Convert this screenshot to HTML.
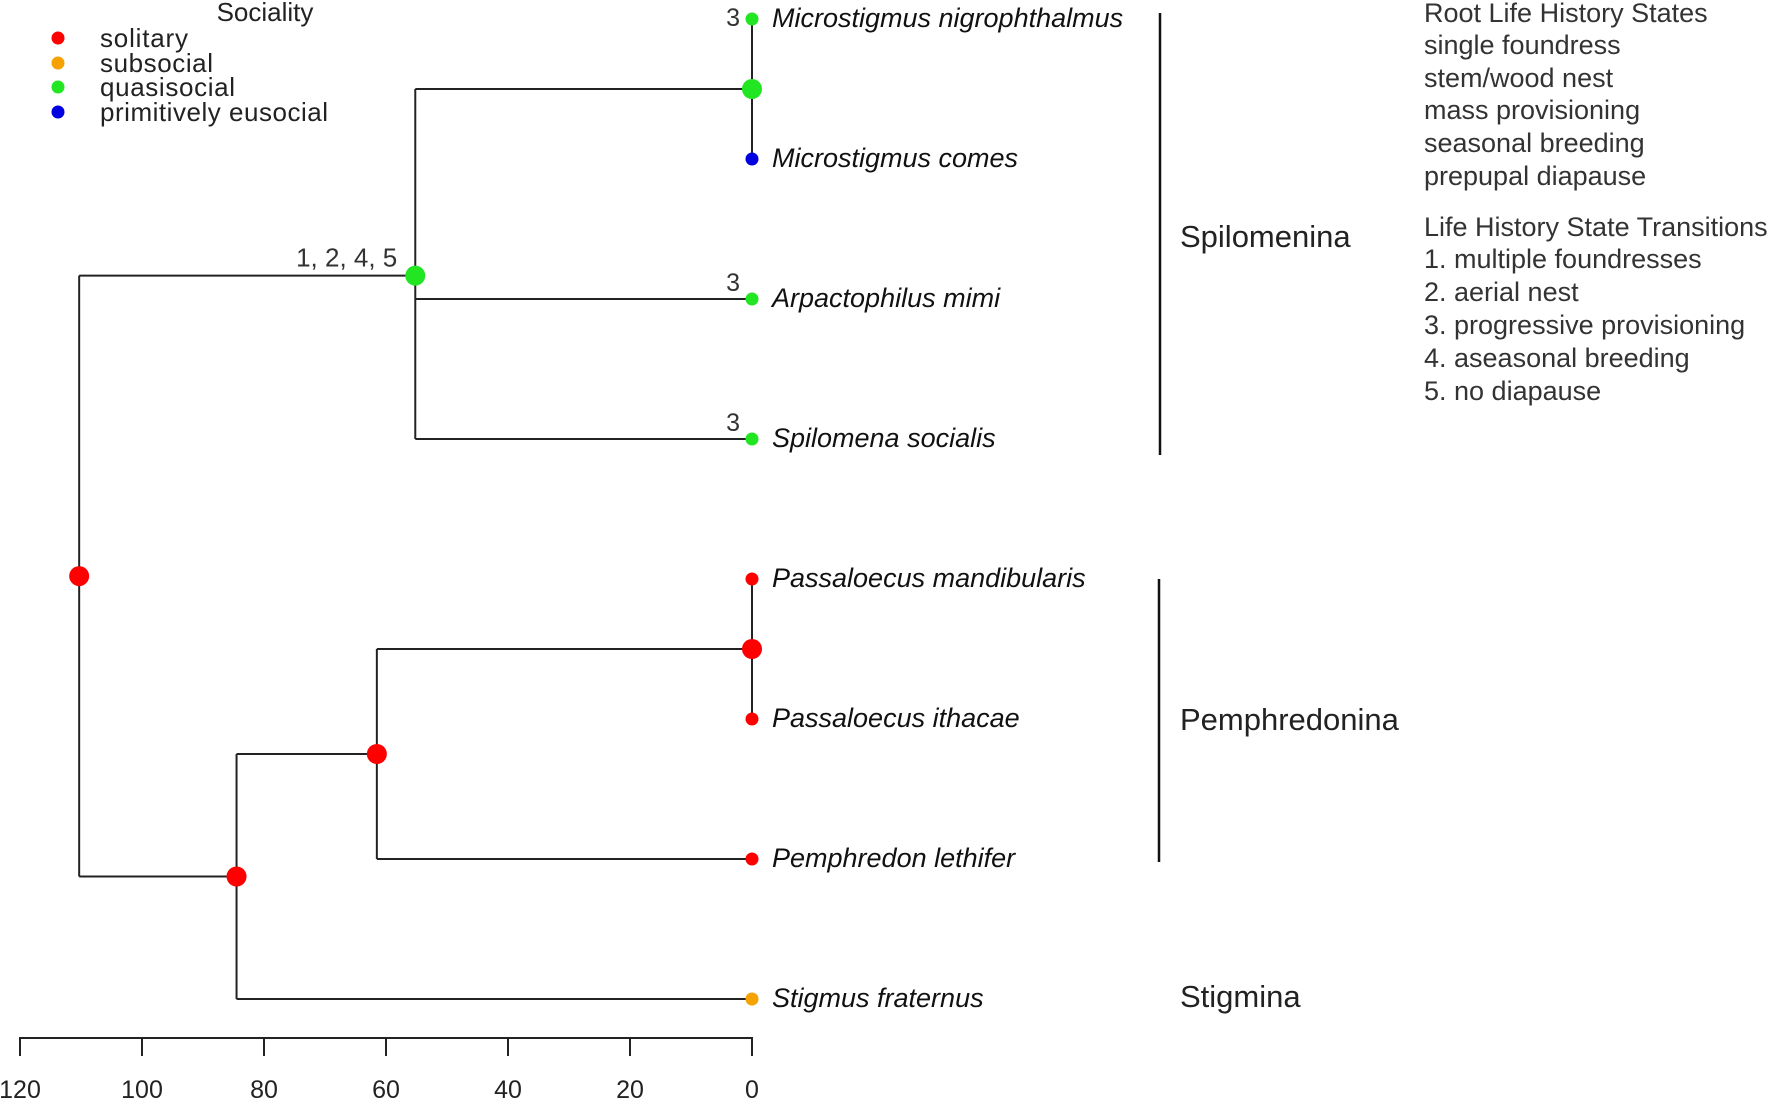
<!DOCTYPE html>
<html><head><meta charset="utf-8"><style>
html,body{margin:0;padding:0;background:#fff;}
svg{display:block;font-family:"Liberation Sans",sans-serif;}
</style></head><body>
<svg id="chart" width="1772" height="1100" viewBox="0 0 1772 1100">
<g id="tree"></g>
<g id="axis"></g>
<g font-size="26" fill="#222">
 <text x="265" y="21" text-anchor="middle">Sociality</text>
 <circle cx="58" cy="38" r="6.5" fill="#ff0000"/>
 <text x="100" y="47" textLength="88">solitary</text>
 <circle cx="58" cy="63" r="6.5" fill="#f5a100"/>
 <text x="100" y="72" textLength="113">subsocial</text>
 <circle cx="58" cy="87" r="6.5" fill="#22e622"/>
 <text x="100" y="96" textLength="135">quasisocial</text>
 <circle cx="58" cy="112" r="6.5" fill="#0000e0"/>
 <text x="100" y="121" textLength="228">primitively eusocial</text>
</g>
<g font-size="31" fill="#222">
 <line x1="1160" y1="13" x2="1160" y2="455" stroke="#111" stroke-width="2.5"/>
 <text x="1180" y="247">Spilomenina</text>
 <line x1="1159" y1="579" x2="1159" y2="862" stroke="#111" stroke-width="2.5"/>
 <text x="1180" y="730">Pemphredonina</text>
 <text x="1180" y="1007">Stigmina</text>
</g>
<g font-size="27" fill="#333">
 <text x="1424" y="22">Root Life History States</text>
 <text x="1424" y="54">single foundress</text>
 <text x="1424" y="87">stem/wood nest</text>
 <text x="1424" y="119">mass provisioning</text>
 <text x="1424" y="152">seasonal breeding</text>
 <text x="1424" y="185">prepupal diapause</text>
 <text x="1424" y="236">Life History State Transitions</text>
 <text x="1424" y="268">1. multiple foundresses</text>
 <text x="1424" y="301">2. aerial nest</text>
 <text x="1424" y="334">3. progressive provisioning</text>
 <text x="1424" y="367">4. aseasonal breeding</text>
 <text x="1424" y="400">5. no diapause</text>
</g>
</svg>
<script>
// Data
const tipNames = ["Microstigmus nigrophthalmus","Microstigmus comes","Arpactophilus mimi","Spilomena socialis","Passaloecus mandibularis","Passaloecus ithacae","Pemphredon lethifer","Stigmus fraternus"];
const tipStates = ["quasisocial","primitively eusocial","quasisocial","quasisocial","solitary","solitary","solitary","subsocial"];
const tipMarks = ["3","","3","3","","","",""];
const nodeNames = ["root","stigPemph","pemph","passal","spilo","micro"];
const nodeAges = [110.3, 84.5, 61.5, 0, 55.2, 0];
const nodeChildren = [["spilo","stigPemph"],["pemph",7],["passal",6],[4,5],["micro",2,3],[0,1]];
const nodeStates = ["solitary","solitary","solitary","solitary","quasisocial","quasisocial"];
const nodeMarks = ["","","","","1, 2, 4, 5",""];
const axisTicks = [120,100,80,60,40,20,0];

const colors = {"solitary":"#ff0000","subsocial":"#f5a100","quasisocial":"#22e622","primitively eusocial":"#0000e0"};
const NS = "http://www.w3.org/2000/svg";
const xScale = a => 752 - a * 6.1;
const yTip = i => 19 + i * 140;
const tree = document.getElementById('tree');
const axis = document.getElementById('axis');
function mk(tag, attrs, parent){const e=document.createElementNS(NS,tag);for(const k in attrs)e.setAttribute(k,attrs[k]);parent.appendChild(e);return e;}

const pos = {};
function nodePos(c){
  if(typeof c === 'number') return {x:xScale(0), y:yTip(c)};
  if(pos[c]) return pos[c];
  const i = nodeNames.indexOf(c);
  const ch = nodeChildren[i].map(nodePos);
  const y = ch.reduce((s,p)=>s+p.y,0)/ch.length;
  pos[c] = {x:xScale(nodeAges[i]), y:y, ch:ch};
  return pos[c];
}
nodeNames.forEach(nodePos);
nodeNames.forEach((n,i)=>{
  const p = pos[n];
  const ys = p.ch.map(c=>c.y);
  const v = mk('line',{x1:p.x,y1:Math.min(...ys),x2:p.x,y2:Math.max(...ys),stroke:'#222','stroke-width':2},tree);
  
  
  p.ch.forEach(c=>{
    const h = mk('line',{x1:p.x,y1:c.y,x2:c.x,y2:c.y,stroke:'#222','stroke-width':2},tree);
    
    
  });
});
tipNames.forEach((name,i)=>{
  const x = xScale(0), y = yTip(i);
  const d = mk('circle',{cx:x,cy:y,r:6.5,fill:colors[tipStates[i]]},tree);
  
  
  const t = mk('text',{x:x+20,y:y+8,'font-size':27,'font-style':'italic',fill:'#111'},tree);
  t.textContent = name;
  
  
  if(tipMarks[i]){
    const m = mk('text',{x:x-12,y:Math.max(y-8,26),'font-size':25,'text-anchor':'end',fill:'#333'},tree);
    m.textContent = tipMarks[i];
    
    
  }
});
nodeNames.forEach((n,i)=>{
  const p = pos[n];
  const d = mk('circle',{cx:p.x,cy:p.y,r:10,fill:colors[nodeStates[i]]},tree);
  
  
  if(nodeMarks[i]){
    const m = mk('text',{x:p.x-18,y:p.y-9,'font-size':26,'text-anchor':'end',fill:'#333'},tree);
    m.textContent = nodeMarks[i];
    
    
  }
});
const al = mk('line',{x1:xScale(120),y1:1038,x2:xScale(0),y2:1038,stroke:'#222','stroke-width':2},axis);


axisTicks.forEach(v=>{
  const x = xScale(v);
  const tk = mk('line',{x1:x,y1:1037,x2:x,y2:1056,stroke:'#222','stroke-width':2},axis);
  
  
  const tl = mk('text',{x:x,y:1098,'font-size':25,'text-anchor':'middle',fill:'#222'},axis);
  tl.textContent = v;
  
  
});
</script>
</body></html>
